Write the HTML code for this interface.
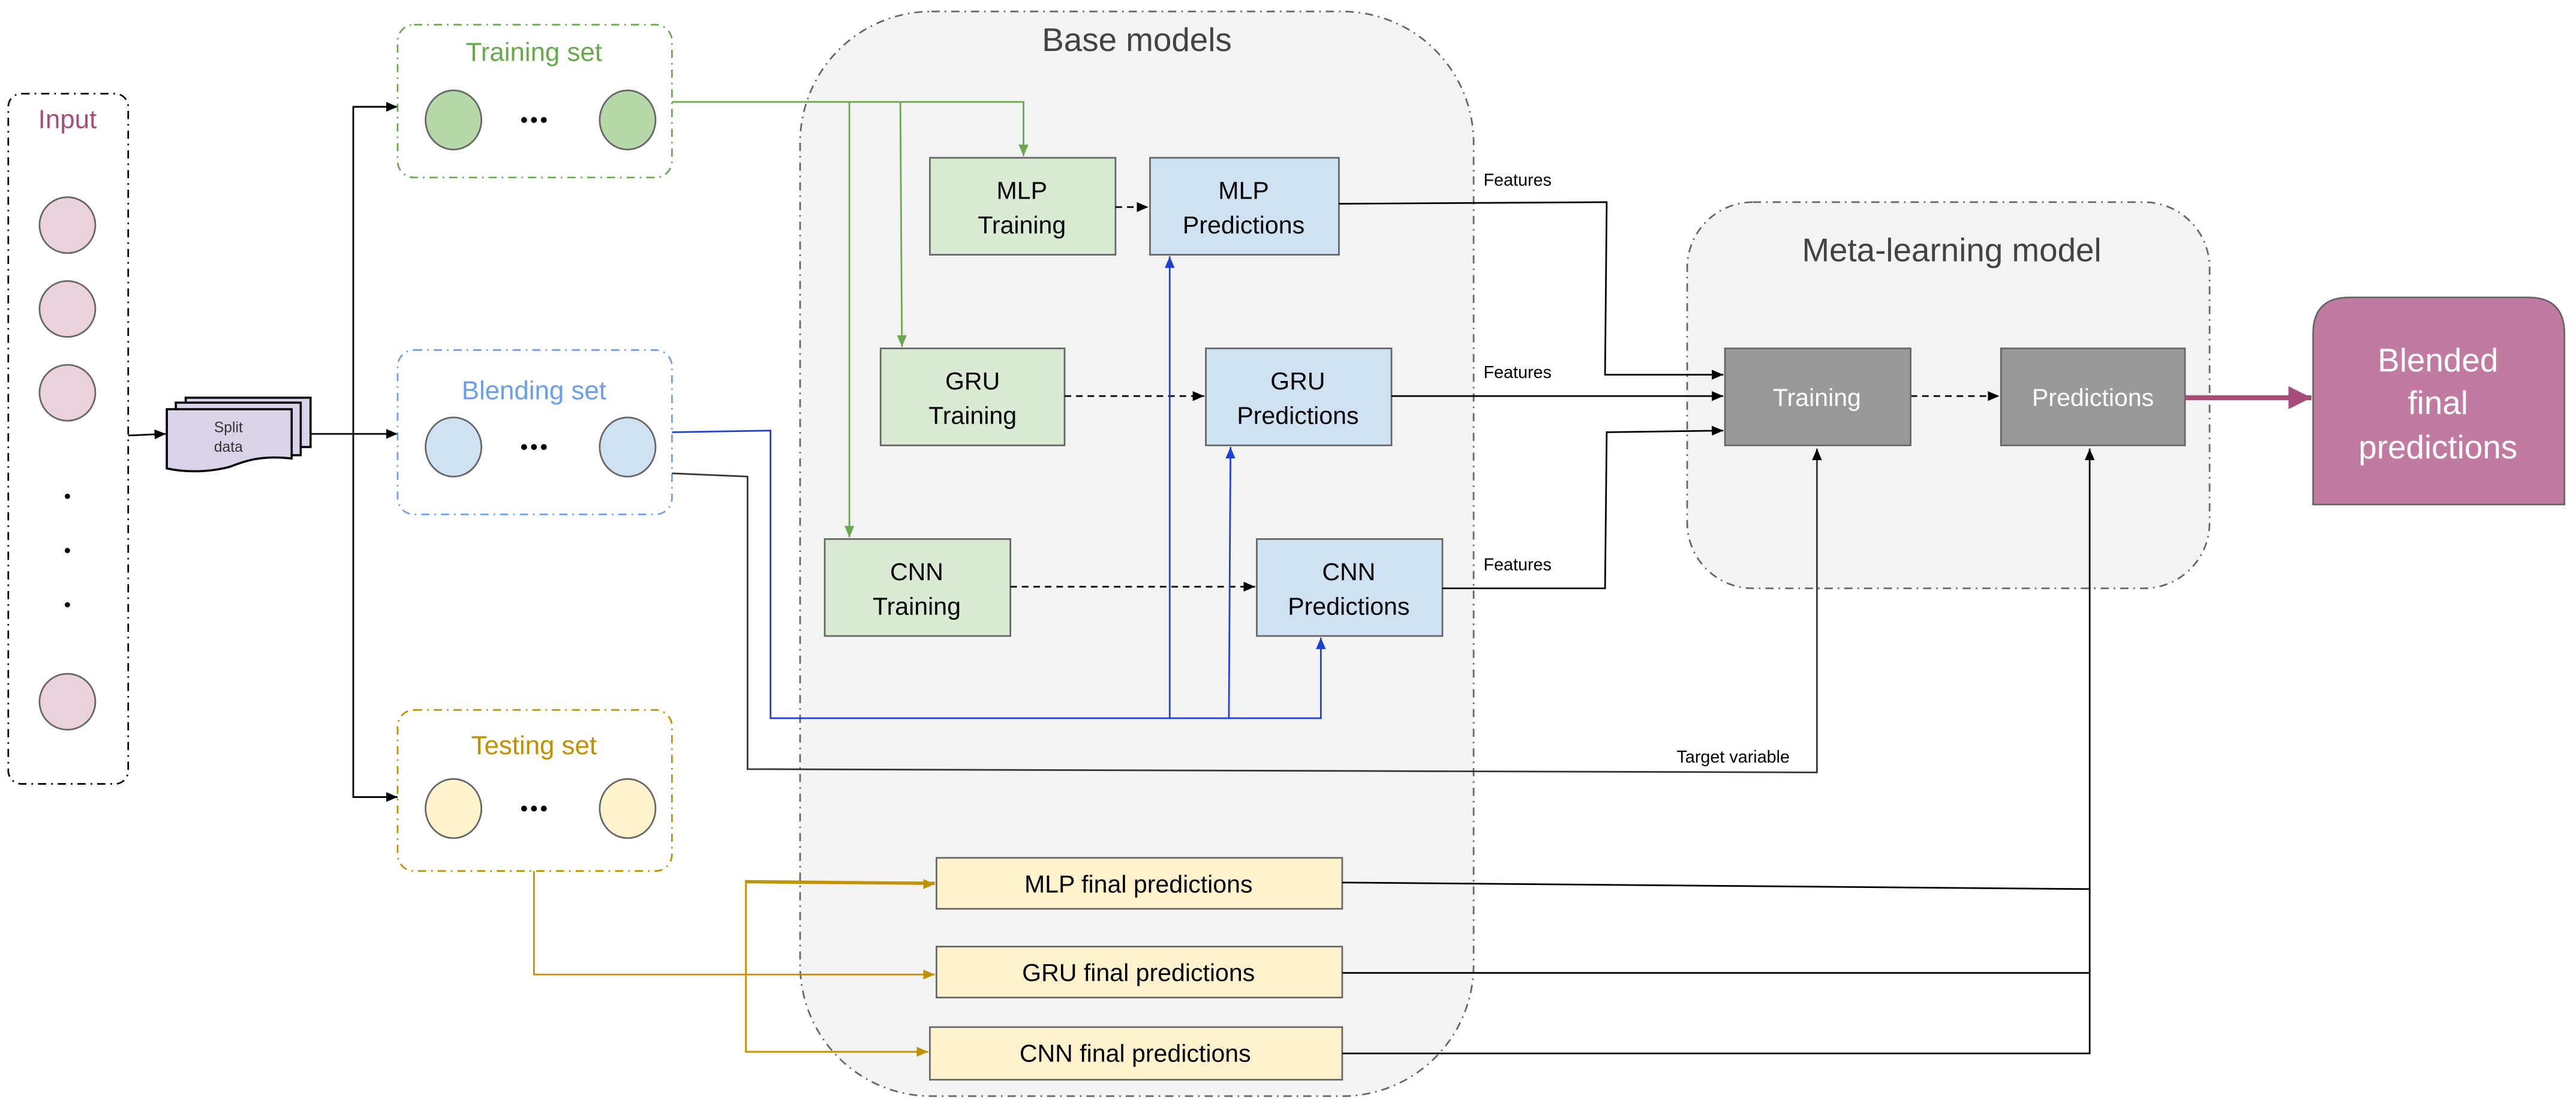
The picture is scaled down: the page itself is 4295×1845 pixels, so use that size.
<!DOCTYPE html>
<html><head><meta charset="utf-8"><style>
html,body{margin:0;padding:0;background:#fff;}
svg{display:block;}
text{font-family:"Liberation Sans",sans-serif;}
</style></head><body>
<svg width="4295" height="1845" viewBox="0 0 1568 673.6" xmlns="http://www.w3.org/2000/svg">
<defs>
<marker id="ab" markerWidth="8" markerHeight="8" refX="7" refY="4" orient="auto" markerUnits="userSpaceOnUse"><path d="M0,1 L7,4 L0,7 Z" fill="#000"/></marker>
<marker id="ag" markerWidth="8" markerHeight="8" refX="7" refY="4" orient="auto" markerUnits="userSpaceOnUse"><path d="M0,1 L7,4 L0,7 Z" fill="#6aa84f"/></marker>
<marker id="abl" markerWidth="8" markerHeight="8" refX="7" refY="4" orient="auto" markerUnits="userSpaceOnUse"><path d="M0,1 L7,4 L0,7 Z" fill="#1c3fd8"/></marker>
<marker id="ay" markerWidth="8" markerHeight="8" refX="7" refY="4" orient="auto" markerUnits="userSpaceOnUse"><path d="M0,1 L7,4 L0,7 Z" fill="#bf9000"/></marker>
<marker id="ap" markerWidth="16" markerHeight="16" refX="14" refY="7" orient="auto" markerUnits="userSpaceOnUse"><path d="M0,0 L14,7 L0,14 Z" fill="#a64d79"/></marker>
</defs>
<rect width="1568" height="673.6" fill="#fff"/>

<rect x="487" y="7" width="410" height="660" rx="80" fill="#f3f3f3" stroke="#666" stroke-dasharray="5,3,1,3"/>
<text x="692" y="31" font-size="20" fill="#434343" text-anchor="middle">Base models</text>
<rect x="1027" y="123" width="318" height="235" rx="40" fill="#f3f3f3" stroke="#666" stroke-dasharray="5,3,1,3"/>
<text x="1188" y="159" font-size="20" fill="#434343" text-anchor="middle">Meta-learning model</text>

<rect x="5" y="57" width="73" height="420" rx="8" fill="none" stroke="#000" stroke-dasharray="5,3,1,3"/>
<text x="41" y="78" font-size="16" fill="#a64d79" text-anchor="middle">Input</text>
<g fill="#ead1dc" stroke="#666" stroke-width="1">
<ellipse cx="41" cy="137" rx="17" ry="17"/><ellipse cx="41" cy="188" rx="17" ry="17"/><ellipse cx="41" cy="239" rx="17" ry="17"/><ellipse cx="41" cy="427" rx="17" ry="17"/>
</g>
<g fill="#000"><circle cx="41" cy="302" r="1.6"/><circle cx="41" cy="335" r="1.6"/><circle cx="41" cy="368" r="1.6"/></g>

<line x1="78" y1="265" x2="101" y2="264" stroke="#000" marker-end="url(#ab)"/>
<g fill="#d9d2e9" stroke="#000" stroke-width="1.3">
<rect x="113" y="242" width="76" height="30"/>
<rect x="107" y="245" width="76" height="32"/>
<path d="M101.5,249 H177.5 V279 C160,277 150,280 140,284 C125,288 110,287 101.5,285 Z"/>
</g>
<text x="139" y="263" font-size="9" fill="#333" text-anchor="middle">Split</text>
<text x="139" y="275" font-size="9" fill="#333" text-anchor="middle">data</text>
<line x1="189" y1="264" x2="242" y2="264" stroke="#000" marker-end="url(#ab)"/>
<polyline points="242,65 215,65 215,485 242,485" fill="none" stroke="#000"/>
<line x1="215" y1="65" x2="242" y2="65" stroke="#000" marker-end="url(#ab)"/>
<line x1="215" y1="485" x2="242" y2="485" stroke="#000" marker-end="url(#ab)"/>

<rect x="242" y="15" width="167" height="93" rx="10" fill="#fff" stroke="#6aa84f" stroke-dasharray="5,3,1,3"/>
<text x="325" y="37" font-size="16" fill="#6aa84f" text-anchor="middle">Training set</text>
<ellipse cx="276" cy="73" rx="17" ry="18" fill="#b6d7a8" stroke="#666"/><ellipse cx="382" cy="73" rx="17" ry="18" fill="#b6d7a8" stroke="#666"/>
<g fill="#000"><circle cx="319" cy="73" r="1.8"/><circle cx="325" cy="73" r="1.8"/><circle cx="331" cy="73" r="1.8"/></g>

<rect x="242" y="213" width="167" height="100" rx="10" fill="#fff" stroke="#6d9eeb" stroke-dasharray="5,3,1,3"/>
<text x="325" y="243" font-size="16" fill="#6d9eeb" text-anchor="middle">Blending set</text>
<ellipse cx="276" cy="272" rx="17" ry="18" fill="#cfe2f3" stroke="#666"/><ellipse cx="382" cy="272" rx="17" ry="18" fill="#cfe2f3" stroke="#666"/>
<g fill="#000"><circle cx="319" cy="272" r="1.8"/><circle cx="325" cy="272" r="1.8"/><circle cx="331" cy="272" r="1.8"/></g>

<rect x="242" y="432" width="167" height="98" rx="10" fill="#fff" stroke="#bf9000" stroke-dasharray="5,3,1,3"/>
<text x="325" y="459" font-size="16" fill="#bf9000" text-anchor="middle">Testing set</text>
<ellipse cx="276" cy="492" rx="17" ry="18" fill="#fff2cc" stroke="#666"/><ellipse cx="382" cy="492" rx="17" ry="18" fill="#fff2cc" stroke="#666"/>
<g fill="#000"><circle cx="319" cy="492" r="1.8"/><circle cx="325" cy="492" r="1.8"/><circle cx="331" cy="492" r="1.8"/></g>

<g fill="none" stroke="#6aa84f">
<polyline points="409,62 623,62 623,95" marker-end="url(#ag)"/>
<line x1="517" y1="62" x2="517" y2="327" marker-end="url(#ag)"/>
<line x1="548" y1="62" x2="549" y2="211" marker-end="url(#ag)"/>
</g>

<g stroke="#666" stroke-width="1">
<rect x="566" y="96" width="113" height="59" fill="#d9ead3"/>
<rect x="700" y="96" width="115" height="59" fill="#cfe2f3"/>
<rect x="536" y="212" width="112" height="59" fill="#d9ead3"/>
<rect x="734" y="212" width="113" height="59" fill="#cfe2f3"/>
<rect x="502" y="328" width="113" height="59" fill="#d9ead3"/>
<rect x="765" y="328" width="113" height="59" fill="#cfe2f3"/>
</g>
<g font-size="15" fill="#000" text-anchor="middle">
<text x="622" y="121">MLP</text><text x="622" y="142">Training</text>
<text x="757" y="121">MLP</text><text x="757" y="142">Predictions</text>
<text x="592" y="237">GRU</text><text x="592" y="258">Training</text>
<text x="790" y="237">GRU</text><text x="790" y="258">Predictions</text>
<text x="558" y="353">CNN</text><text x="558" y="374">Training</text>
<text x="821" y="353">CNN</text><text x="821" y="374">Predictions</text>
</g>
<g stroke="#000" stroke-dasharray="4,3" fill="none">
<line x1="679" y1="126" x2="699" y2="126" marker-end="url(#ab)"/>
<line x1="648" y1="241" x2="733" y2="241" marker-end="url(#ab)"/>
<line x1="615" y1="357" x2="764" y2="357" marker-end="url(#ab)"/>
<line x1="1163" y1="241" x2="1217" y2="241" marker-end="url(#ab)"/>
</g>

<g fill="none" stroke="#1c3fd8">
<polyline points="409,263 469,262 469,437 804,437 804,388" marker-end="url(#abl)"/>
<line x1="712" y1="437" x2="712" y2="156" marker-end="url(#abl)"/>
<line x1="748" y1="437" x2="749" y2="272" marker-end="url(#abl)"/>
</g>
<polyline points="409,288 455,290 455,468 1106,470 1106,273" fill="none" stroke="#333" marker-end="url(#ab)"/>
<text x="1055" y="464" font-size="10.5" text-anchor="middle">Target variable</text>

<g fill="none" stroke="#000">
<polyline points="815,124 978,123 977,228 1049,228" marker-end="url(#ab)"/>
<line x1="847" y1="241" x2="1049" y2="241" marker-end="url(#ab)"/>
<polyline points="878,358 977,358 978,263 1049,262" marker-end="url(#ab)"/>
</g>
<g font-size="10.5">
<text x="903" y="113">Features</text><text x="903" y="230">Features</text><text x="903" y="347">Features</text>
</g>

<rect x="1050" y="212" width="113" height="59" fill="#999" stroke="#666"/>
<rect x="1218" y="212" width="112" height="59" fill="#999" stroke="#666"/>
<text x="1106" y="247" font-size="15" fill="#fff" text-anchor="middle">Training</text>
<text x="1274" y="247" font-size="15" fill="#fff" text-anchor="middle">Predictions</text>

<line x1="1330" y1="242" x2="1407" y2="242" stroke="#a64d79" stroke-width="3" marker-end="url(#ap)"/>
<path d="M1408,307 V203 Q1408,181 1430,181 H1539 Q1561,181 1561,203 V307 Z" fill="#c27ba0" stroke="#666"/>
<g font-size="20" fill="#fff" text-anchor="middle"><text x="1484" y="226">Blended</text><text x="1484" y="252">final</text><text x="1484" y="279">predictions</text></g>

<g stroke="#666" fill="#fff2cc">
<rect x="570" y="522" width="247" height="31"/>
<rect x="570" y="576" width="247" height="31"/>
<rect x="566" y="625" width="251" height="32"/>
</g>
<g font-size="15" text-anchor="middle">
<text x="693" y="543">MLP final predictions</text>
<text x="693" y="597">GRU final predictions</text>
<text x="691" y="646">CNN  final predictions</text>
</g>
<g fill="none" stroke="#bf9000">
<polyline points="325,530 325,593 569,593" marker-end="url(#ay)"/>
<polyline points="569,537 454,536 454,640 565,640"/>
<line x1="454" y1="537" x2="569" y2="538" marker-end="url(#ay)"/>
<line x1="454" y1="640" x2="565" y2="640" marker-end="url(#ay)"/>
</g>
<g fill="none" stroke="#000">
<line x1="817" y1="537" x2="1272" y2="541"/>
<line x1="817" y1="592" x2="1272" y2="592"/>
<polyline points="817,641 1272,641 1272,273" marker-end="url(#ab)"/>
</g>
</svg>
</body></html>
